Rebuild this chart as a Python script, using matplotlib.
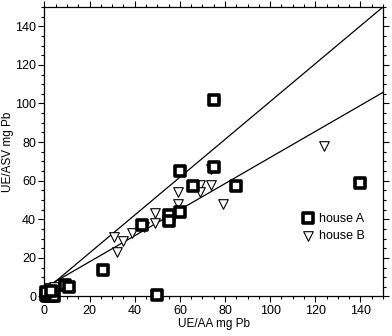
import matplotlib
matplotlib.use("Agg")
import matplotlib.pyplot as plt
from matplotlib.ticker import MultipleLocator

## Values
house_a_x = [75, 75, 66, 85, 140, 60, 60, 55, 55, 43, 26, 50, 9, 11,
             1, 2, 3, 3.5, 1.5, 2.5, 0.5, 4, 0.8, 3]
house_a_y = [102, 67, 57, 57, 59, 65, 44, 42, 39, 37, 13.5, 1, 6, 5,
             0, 1, 0.5, 2, 1.5, 0, 1, 0.5, 2.5, 3]

house_b_x = [31, 32, 35, 39, 44, 49, 49, 59, 59, 69, 69, 74, 79, 124, 74,
             2, 4, 1, 3]
house_b_y = [31, 23, 29, 33, 36, 43, 38, 54, 48, 58, 54, 58, 48, 78, 66,
             4.5, 5, 1, 2]

## Fitted lines (slope, intercept)
line_a = (0.98, 3.0)
line_b = (0.675, 4.5)
line_x = [0, 150]

plt.rcParams['font.family'] = ['Liberation Sans', 'DejaVu Sans']

fig = plt.figure(figsize=(3.92, 3.36), dpi=100)
ax = fig.add_axes([0.1135, 0.1176, 0.8635, 0.8616])

for m, b in (line_a, line_b):
    ax.plot(line_x, [m * x + b for x in line_x], color='black', lw=0.9)

tri = ax.scatter(house_b_x, house_b_y, marker='v', s=48, facecolors='white',
                 edgecolors='black', linewidths=0.8, clip_on=False, zorder=3,
                 label='house B')
sq = ax.scatter(house_a_x, house_a_y, marker='s', s=56, facecolors='white',
                edgecolors='black', linewidths=2.6, clip_on=False, zorder=4,
                label='house A')

ax.set_xlim(0, 150)
ax.set_ylim(0, 150)
ax.xaxis.set_major_locator(MultipleLocator(20))
ax.xaxis.set_minor_locator(MultipleLocator(5))
ax.yaxis.set_major_locator(MultipleLocator(20))
ax.yaxis.set_minor_locator(MultipleLocator(5))
ax.tick_params(which='both', direction='out', top=True, right=True,
               labelsize=9, width=0.8, pad=2)
ax.tick_params(which='major', length=4)
ax.tick_params(which='minor', length=2.5)
for s in ax.spines.values():
    s.set_linewidth(0.9)

ax.set_xlabel('UE/AA mg Pb', fontsize=8.5, labelpad=1)
ax.set_ylabel('UE/ASV mg Pb', fontsize=8.5, labelpad=0.5)

ax.legend(handles=[sq, tri], loc='upper left', bbox_to_anchor=(0.755, 0.29),
          frameon=False, fontsize=9, handletextpad=0.3, handlelength=1.2,
          labelspacing=0.45, borderpad=0, borderaxespad=0)

fig.savefig('out.png', dpi=100)
